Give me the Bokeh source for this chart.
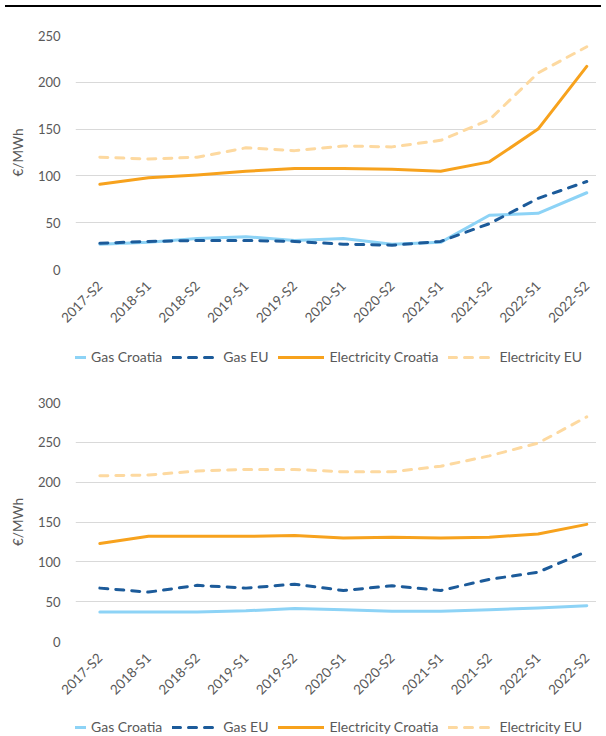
import math
from bokeh.plotting import figure
from bokeh.models import (Range1d, FixedTicker, Legend, LegendItem, Div, ColumnDataSource)
from bokeh.layouts import column
from bokeh.embed import file_html
from bokeh.resources import INLINE

periods = ["2017-S2", "2018-S1", "2018-S2", "2019-S1", "2019-S2", "2020-S1",
           "2020-S2", "2021-S1", "2021-S2", "2022-S1", "2022-S2"]
series_names = ["Gas Croatia", "Gas EU", "Electricity Croatia", "Electricity EU"]

# Top chart
top_gas_croatia = [27, 29, 33, 35, 31, 33, 27, 29, 58, 60, 82]
top_gas_eu = [28, 30, 31, 31, 30, 27, 26, 30, 49, 76, 94]
top_elec_croatia = [91, 98, 101, 105, 108, 108, 107, 105, 115, 150, 217]
top_elec_eu = [120, 118, 120, 130, 127, 132, 131, 138, 160, 210, 238]

# Bottom chart
bot_gas_croatia = [37, 37, 37, 38.5, 41.5, 40, 38, 38, 40, 42, 45]
bot_gas_eu = [67, 62, 70.5, 67, 72, 64, 70, 64, 78, 87, 113]
bot_elec_croatia = [123, 132, 132, 132, 133, 130, 131, 130, 131, 135, 147]
bot_elec_eu = [208, 209, 214, 216, 216, 213, 213, 220, 233, 249, 282]

y_ticks_top = [0, 50, 100, 150, 200, 250]
y_ticks_bot = [0, 50, 100, 150, 200, 250, 300]

styles = [
    dict(line_color="#8DD3F6", line_dash="solid"),
    dict(line_color="#1C5B9A", line_dash="8 8"),
    dict(line_color="#F7A21D", line_dash="solid"),
    dict(line_color="#FDD9A0", line_dash="8 8"),
]

TEXT = "#595959"
FONT = "Lato"
XS = list(range(len(periods)))


def make_chart(series, yticks, height, top_border, frame_h):
    p = figure(width=596, height=height, output_backend="svg", toolbar_location=None,
               x_range=Range1d(-0.5, 10.2), y_range=Range1d(0, yticks[-1]),
               min_border_left=75, min_border_right=0, min_border_top=top_border,
               min_border_bottom=height - top_border - frame_h)
    p.outline_line_color = None
    p.background_fill_color = "white"
    p.border_fill_color = "white"

    for vals, st in zip(series, styles):
        src = ColumnDataSource(dict(x=XS, y=vals))
        p.line("x", "y", source=src, line_width=3, line_cap="round",
               line_join="round", **st)

    p.xaxis.ticker = FixedTicker(ticks=XS)
    p.xaxis.major_label_overrides = {i: lab for i, lab in enumerate(periods)}
    p.xaxis.major_label_orientation = math.pi / 4
    p.yaxis.ticker = FixedTicker(ticks=yticks)
    for ax in (p.xaxis, p.yaxis):
        ax.axis_line_color = None
        ax.major_tick_line_color = None
        ax.minor_tick_line_color = None
        ax.major_tick_out = 0
        ax.major_tick_in = 0
        ax.minor_tick_out = 0
        ax.minor_tick_in = 0
        ax.major_label_text_color = TEXT
        ax.major_label_text_font = FONT
    p.xaxis.major_label_text_font_size = "13.5px"
    p.yaxis.major_label_text_font_size = "13px"
    p.xaxis.major_label_standoff = 14
    p.yaxis.major_label_standoff = 15
    p.yaxis.axis_label = "€/MWh"
    p.yaxis.axis_label_text_font = FONT
    p.yaxis.axis_label_text_font_size = "13.5px"
    p.yaxis.axis_label_text_font_style = "normal"
    p.yaxis.axis_label_text_color = TEXT
    p.yaxis.axis_label_standoff = 9

    p.xgrid.grid_line_color = None
    p.ygrid.grid_line_color = "#D9D9D9"
    p.ygrid.grid_line_width = 1.2
    p.ygrid.ticker = FixedTicker(ticks=yticks)
    return p


def make_legend(series, height, yoff):
    # the series are drawn below the visible window; only the legend shows
    lp = figure(width=596, height=height, output_backend="svg", toolbar_location=None,
                x_axis_type=None, y_axis_type=None,
                min_border=0, min_border_left=0, min_border_right=0,
                min_border_top=0, min_border_bottom=0,
                x_range=Range1d(0, 1), y_range=Range1d(-2, -1))
    lp.outline_line_color = None
    items = []
    for name, vals, st in zip(series_names, series, styles):
        r = lp.line(x=XS, y=vals, line_width=3, line_cap="round", line_join="round", **st)
        items.append(LegendItem(label=name, renderers=[r]))
    legend = Legend(items=items, orientation="horizontal", location=(-35, yoff),
                    label_text_font=FONT, label_text_font_size="14px",
                    label_text_color=TEXT, glyph_width=46, glyph_height=16,
                    label_height=16, label_width=10,
                    label_standoff=5, spacing=10, padding=0, margin=0,
                    border_line_color=None, background_fill_alpha=0)
    lp.add_layout(legend, "center")
    return lp


top_series = [top_gas_croatia, top_gas_eu, top_elec_croatia, top_elec_eu]
bot_series = [bot_gas_croatia, bot_gas_eu, bot_elec_croatia, bot_elec_eu]

p1 = make_chart(top_series, y_ticks_top, 335, 23, 234)
leg1 = make_legend(top_series, 20, 2)
p2 = make_chart(bot_series, y_ticks_bot, 351, 35, 239)
leg2 = make_legend(bot_series, 18, 1)

topline = Div(text="", width=596, height=2, styles={"background-color": "black"})

layout = column(topline, p1, leg1, p2, leg2, spacing=0)
open("out.html", "w").write(file_html(layout, INLINE))
